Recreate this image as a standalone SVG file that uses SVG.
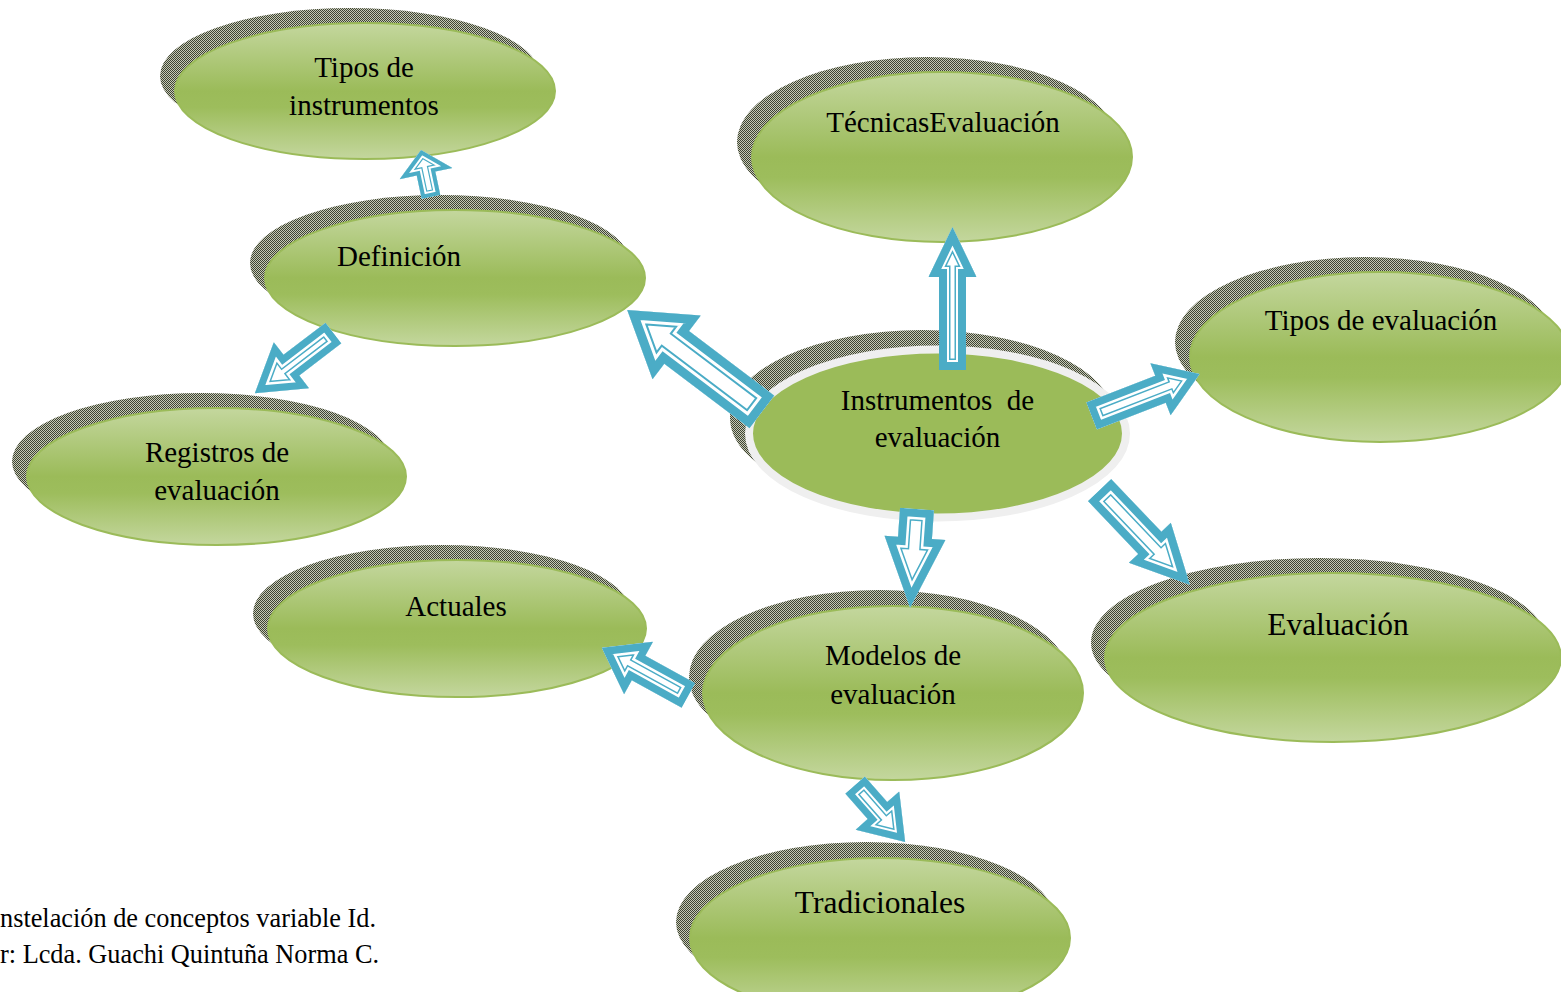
<svg xmlns="http://www.w3.org/2000/svg" xmlns:xlink="http://www.w3.org/1999/xlink" width="1561" height="992" viewBox="0 0 1561 992">
<style>
.sh{fill:url(#dots);}
.el{fill:url(#grn);stroke:#9bbb59;stroke-width:2;}
.t{font-family:"Liberation Serif","Times New Roman",serif;font-size:29px;fill:#000;text-anchor:middle;}
.tb{font-size:31.5px;}
.cap{font-family:"Liberation Serif","Times New Roman",serif;font-size:26.3px;fill:#000;}
.a1{fill:#fff;stroke:#4bacc6;}
.a2{fill:none;stroke:#fff;}
.a3{fill:none;stroke:#4bacc6;}
.a1,.a2,.a3{stroke-miterlimit:10;}
</style>
<defs>
<pattern id="dots" width="2" height="2" patternUnits="userSpaceOnUse">
<rect width="2" height="2" fill="#c6c9b6"/>
<rect width="1" height="1" fill="#3e4333"/>
<rect x="1" y="1" width="1" height="1" fill="#3e4333"/>
</pattern>
<linearGradient id="grn" x1="0" y1="0" x2="0" y2="1">
<stop offset="0" stop-color="#c4d79e"/>
<stop offset="0.5" stop-color="#9bbb59"/>
<stop offset="0.62" stop-color="#9dbd5c"/>
<stop offset="1" stop-color="#c4d79e"/>
</linearGradient>
<path id="p1" d="M0,-9.5H24V-27L48,0L24,27V9.5H0Z"/>
<path id="p2" d="M0,-20.5H107V-40L169,0L107,40V20.5H0Z"/>
<path id="p3" d="M0,-13.5H93V-24L143,0L93,24V13.5H0Z"/>
<path id="p4" d="M0,-14.5H74V-28L116,0L74,28V14.5H0Z"/>
<path id="p5" d="M0,-16H73V-29L131,0L73,29V16H0Z"/>
<path id="p6" d="M0,-17H29V-30.5L99,0L29,30.5V17H0Z"/>
<path id="p7" d="M0,-14H57V-30L99,0L57,30V14H0Z"/>
<path id="p8" d="M0,-13H34V-29L76,0L34,29V13H0Z"/>
<path id="p9" d="M0,-13H53V-29L99,0L53,29V13H0Z"/>
<clipPath id="c1"><use xlink:href="#p1"/></clipPath>
<clipPath id="c2"><use xlink:href="#p2"/></clipPath>
<clipPath id="c3"><use xlink:href="#p3"/></clipPath>
<clipPath id="c4"><use xlink:href="#p4"/></clipPath>
<clipPath id="c5"><use xlink:href="#p5"/></clipPath>
<clipPath id="c6"><use xlink:href="#p6"/></clipPath>
<clipPath id="c7"><use xlink:href="#p7"/></clipPath>
<clipPath id="c8"><use xlink:href="#p8"/></clipPath>
<clipPath id="c9"><use xlink:href="#p9"/></clipPath>
</defs>
<rect width="1561" height="992" fill="#fff"/>

<g id="tipos-instrumentos">
<ellipse class="sh" cx="350" cy="76" rx="190" ry="68"/>
<ellipse class="el" cx="365" cy="91" rx="190" ry="68"/>
<text class="t" x="364" y="77">Tipos de</text>
<text class="t" x="364" y="115">instrumentos</text>
</g>

<g id="definicion">
<ellipse class="sh" cx="440" cy="263" rx="190" ry="68"/>
<ellipse class="el" cx="455" cy="278" rx="190" ry="68"/>
<text class="t" x="399" y="266">Definición</text>
</g>

<g id="registros">
<ellipse class="sh" cx="201.5" cy="461.5" rx="189.5" ry="68.5"/>
<ellipse class="el" cx="216.5" cy="476.5" rx="189.5" ry="68.5"/>
<text class="t" x="217" y="462">Registros de</text>
<text class="t" x="217" y="500">evaluación</text>
</g>

<g id="tecnicas">
<ellipse class="sh" cx="927" cy="142" rx="190" ry="85"/>
<ellipse class="el" cx="942" cy="157" rx="190" ry="85"/>
<text class="t" x="943" y="132">TécnicasEvaluación</text>
</g>

<g id="tipos-evaluacion">
<ellipse class="sh" cx="1365" cy="342" rx="190" ry="85"/>
<ellipse class="el" cx="1380" cy="357" rx="190" ry="85"/>
<text class="t" x="1381" y="330">Tipos de evaluación</text>
</g>

<g id="evaluacion">
<ellipse class="sh" cx="1319" cy="642.5" rx="228" ry="84.5"/>
<ellipse class="el" cx="1333" cy="657.5" rx="228" ry="84.5"/>
<text class="t tb" x="1338" y="635">Evaluación</text>
</g>

<g id="actuales">
<ellipse class="sh" cx="442" cy="613.5" rx="189" ry="68.5"/>
<ellipse class="el" cx="457" cy="628.5" rx="189" ry="68.5"/>
<text class="t" x="456" y="616">Actuales</text>
</g>

<g id="modelos">
<ellipse class="sh" cx="879" cy="677" rx="190" ry="87"/>
<ellipse class="el" cx="893" cy="693" rx="190" ry="87"/>
<text class="t" x="893" y="665">Modelos de</text>
<text class="t" x="893" y="704">evaluación</text>
</g>

<g id="tradicionales">
<ellipse class="sh" cx="866" cy="922" rx="190" ry="80"/>
<ellipse class="el" cx="880" cy="938" rx="190" ry="80"/>
<text class="t tb" x="880" y="913">Tradicionales</text>
</g>

<g id="instrumentos">
<ellipse class="sh" cx="922" cy="418" rx="192" ry="88"/>
<ellipse cx="937.5" cy="433.5" rx="188.5" ry="84" fill="#9bbb59" stroke="#efefef" stroke-width="8"/>
<text class="t" x="937.5" y="410" xml:space="preserve">Instrumentos  de</text>
<text class="t" x="937.5" y="447">evaluación</text>
</g>

<g id="connectors">
<g transform="translate(431,197) rotate(-102)"><g clip-path="url(#c1)">
<use xlink:href="#p1" class="a1" stroke-width="14.4"/><use xlink:href="#p1" class="a2" stroke-width="12"/><use xlink:href="#p1" class="a3" stroke-width="8"/>
</g></g>
<g transform="translate(762,412) rotate(217.1)"><g clip-path="url(#c2)">
<use xlink:href="#p2" class="a1" stroke-width="28"/><use xlink:href="#p2" class="a2" stroke-width="24"/><use xlink:href="#p2" class="a3" stroke-width="18"/>
</g></g>
<g transform="translate(952.5,370) rotate(-90)"><g clip-path="url(#c3)">
<use xlink:href="#p3" class="a1" stroke-width="23"/><use xlink:href="#p3" class="a2" stroke-width="20"/><use xlink:href="#p3" class="a3" stroke-width="16"/>
</g></g>
<g transform="translate(1091.5,416) rotate(-21.2)"><g clip-path="url(#c4)">
<use xlink:href="#p4" class="a1" stroke-width="23"/><use xlink:href="#p4" class="a2" stroke-width="20"/><use xlink:href="#p4" class="a3" stroke-width="15"/>
</g></g>
<g transform="translate(1099.5,490) rotate(46.4)"><g clip-path="url(#c5)">
<use xlink:href="#p5" class="a1" stroke-width="24"/><use xlink:href="#p5" class="a2" stroke-width="21"/><use xlink:href="#p5" class="a3" stroke-width="16"/>
</g></g>
<g transform="translate(917,509) rotate(94)"><g clip-path="url(#c6)">
<use xlink:href="#p6" class="a1" stroke-width="24"/><use xlink:href="#p6" class="a2" stroke-width="21"/><use xlink:href="#p6" class="a3" stroke-width="16"/>
</g></g>
<g transform="translate(688.5,695.5) rotate(208.8)"><g clip-path="url(#c7)">
<use xlink:href="#p7" class="a1" stroke-width="23"/><use xlink:href="#p7" class="a2" stroke-width="20"/><use xlink:href="#p7" class="a3" stroke-width="15"/>
</g></g>
<g transform="translate(855,785) rotate(48.7)"><g clip-path="url(#c8)">
<use xlink:href="#p8" class="a1" stroke-width="21"/><use xlink:href="#p8" class="a2" stroke-width="18"/><use xlink:href="#p8" class="a3" stroke-width="14"/>
</g></g>
<g transform="translate(333.5,333) rotate(142.6)"><g clip-path="url(#c9)">
<use xlink:href="#p9" class="a1" stroke-width="22"/><use xlink:href="#p9" class="a2" stroke-width="19"/><use xlink:href="#p9" class="a3" stroke-width="14"/>
</g></g>
</g>

<g id="caption">
<text class="cap" x="0" y="927">nstelación de conceptos variable Id.</text>
<text class="cap" x="0" y="963">r: Lcda. Guachi Quintuña Norma C.</text>
</g>
</svg>
